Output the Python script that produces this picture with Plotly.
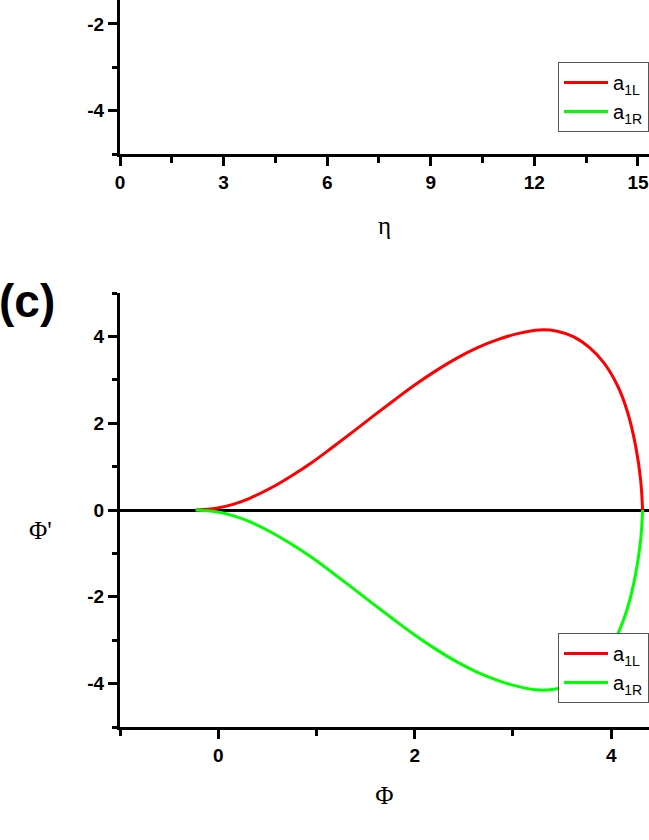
import plotly.graph_objects as go

# Panel (c): phase portrait, Phi' vs Phi
phi_L = [-0.23, -0.02, 0.15, 0.32, 0.53, 0.74, 0.95, 1.16, 1.37, 1.58, 1.79, 2.00,
         2.21, 2.43, 2.64, 2.85, 3.06, 3.27, 3.45, 3.62, 3.78, 3.93, 4.07, 4.17,
         4.25, 4.30, 4.32]
dphi_L = [0.00, 0.04, 0.13, 0.27, 0.50, 0.78, 1.09, 1.44, 1.80, 2.17, 2.53, 2.88,
          3.20, 3.50, 3.74, 3.93, 4.07, 4.15, 4.12, 3.99, 3.74, 3.38, 2.84, 2.23,
          1.46, 0.69, 0.00]
phi_R = [-0.23, -0.02, 0.15, 0.32, 0.53, 0.74, 0.95, 1.16, 1.37, 1.58, 1.79, 2.00,
         2.21, 2.43, 2.64, 2.85, 3.06, 3.27, 3.45, 3.62, 3.78, 3.93, 4.07, 4.17,
         4.25, 4.30, 4.32]
dphi_R = [0.00, -0.04, -0.13, -0.27, -0.50, -0.78, -1.09, -1.44, -1.80, -2.17, -2.53, -2.88,
          -3.20, -3.50, -3.74, -3.93, -4.07, -4.15, -4.12, -3.99, -3.74, -3.38, -2.84, -2.23,
          -1.46, -0.69, 0.00]

series_names = ["a<sub>1L</sub>", "a<sub>1R</sub>"]
series_colors = ["#ff0000", "#00ff00"]

eta_ticks = [0, 3, 6, 9, 12, 15]
eta_labels = ["0", "3", "6", "9", "12", "15"]
phi_ticks = [0, 2, 4]
phi_labels = ["0", "2", "4"]
y_ticks_b = [-4, -2]
y_labels_b = ["-4", "-2"]
y_ticks_c = [-4, -2, 0, 2, 4]
y_labels_c = ["-4", "-2", "0", "2", "4"]

W, H = 649, 840
ML, MR, MT, MB = 120, 0, 0, 113
PW, PH = W - ML - MR, H - MT - MB

def py(px):  # pixel y -> paper y
    return 1 - (px - MT) / PH

def pxx(px):  # pixel x -> paper x
    return (px - ML) / PW

fig = go.Figure()

# Panel (b) traces (their curves lie above the visible window)
for name, col in zip(series_names, series_colors):
    fig.add_trace(go.Scatter(x=[None], y=[None], mode="lines", name=name,
                             line=dict(color=col, width=3),
                             xaxis="x", yaxis="y", legend="legend"))

# Panel (c) traces
fig.add_trace(go.Scatter(x=phi_L, y=dphi_L, mode="lines", name=series_names[0],
                         line=dict(color=series_colors[0], width=3, shape="spline", smoothing=1.0),
                         xaxis="x2", yaxis="y2", legend="legend2"))
fig.add_trace(go.Scatter(x=phi_R, y=dphi_R, mode="lines", name=series_names[1],
                         line=dict(color=series_colors[1], width=3, shape="spline", smoothing=1.0),
                         xaxis="x2", yaxis="y2", legend="legend2"))

tickfont = dict(family="Liberation Sans Narrow, Arial Narrow, Liberation Sans, Arial",
                size=19, color="black", weight="bold")
titlefont = dict(family="Liberation Serif, Times New Roman, DejaVu Serif", size=25, color="black")

common_axis = dict(showline=True, linecolor="black", linewidth=3, showgrid=False,
                   ticks="outside", ticklen=9, tickwidth=2.5, tickcolor="black",
                   tickfont=tickfont, fixedrange=True)

top_dom = [py(154), 1.0]
bot_dom = [0.0, py(293)]

legend_style = dict(xanchor="left", yanchor="top",
                    bgcolor="white", bordercolor="#555555", borderwidth=1,
                    font=dict(family="Liberation Sans, Arial", size=20, color="black"),
                    itemwidth=44, tracegroupgap=0)

fig.update_layout(
    width=W, height=H,
    margin=dict(l=ML, r=MR, t=MT, b=MB),
    paper_bgcolor="white", plot_bgcolor="white",
    showlegend=True,
    xaxis=dict(**common_axis, domain=[0, 1], anchor="y", range=[0, 15.32],
               tickvals=eta_ticks, ticktext=eta_labels, zeroline=False,
               minor=dict(dtick=1.5, tick0=0, ticklen=6, tickwidth=2.5, tickcolor="black", ticks="outside"),
               title=dict(text="η", font=titlefont, standoff=25)),
    yaxis=dict(**common_axis, domain=top_dom, anchor="x", range=[-5, -1.448],
               tickvals=y_ticks_b, ticktext=y_labels_b, zeroline=False,
               minor=dict(dtick=1, tick0=0, ticklen=5, tickwidth=2.5, tickcolor="black", ticks="outside")),
    xaxis2=dict(**common_axis, domain=[0, 1], anchor="y2", range=[-1, 4.385],
                tickvals=phi_ticks, ticktext=phi_labels, zeroline=False,
                minor=dict(dtick=1, tick0=-1, ticklen=6, tickwidth=2.5, tickcolor="black", ticks="outside"),
                title=dict(text="Φ", font=titlefont, standoff=22)),
    yaxis2=dict(**common_axis, domain=bot_dom, anchor="x2", range=[-5, 5],
                tickvals=y_ticks_c, ticktext=y_labels_c, zeroline=True,
                zerolinecolor="black", zerolinewidth=2.5,
                minor=dict(dtick=1, tick0=-5, ticklen=5, tickwidth=2.5, tickcolor="black", ticks="outside")),
    legend=dict(x=pxx(558), y=py(62), **legend_style),
    legend2=dict(x=pxx(558), y=py(633), **legend_style),
    annotations=[
        dict(text="(c)", xref="paper", yref="paper", x=pxx(-3), y=py(301),
             xanchor="left", yanchor="middle", showarrow=False,
             font=dict(family="Liberation Sans, Arial", size=46, color="black", weight="bold")),
        dict(text="Φ'", xref="paper", yref="paper", x=pxx(40), y=py(530),
             xanchor="center", yanchor="middle", showarrow=False,
             font=titlefont),
    ],
)

fig.write_html("out.html", config={"displayModeBar": False},
               post_script="document.body.style.margin='0';document.body.style.overflow='hidden';")
